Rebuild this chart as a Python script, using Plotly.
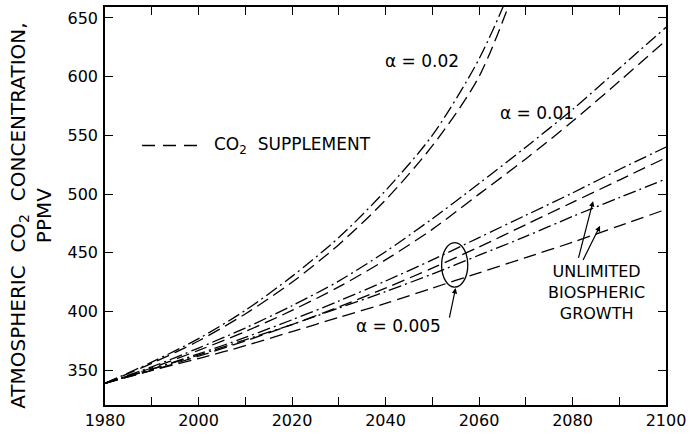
import plotly.graph_objects as go

# Projection years and CO2 concentrations (ppmv)
years = [1980, 1990, 2000, 2010, 2020, 2030, 2040, 2050, 2060, 2070, 2080, 2090, 2100]

a02_plain = [339, 357, 377, 401, 430, 463, 503, 550, 615, 705]
a02_supp = [339, 356, 375, 398, 425, 457, 495, 541, 600, 700]
a01_plain = [339, 353, 369, 386, 405, 426, 451, 479, 509, 540, 572, 607, 642]
a01_supp = [339, 352, 367, 383, 401, 421, 444, 470, 500, 530, 562, 596, 631]
a005_plain = [339, 351, 364, 378, 393, 409, 426, 444, 463, 482, 501, 521, 540]
a005_supp = [339, 350, 362, 375, 389, 404, 420, 437, 455, 474, 493, 512, 531]
unlim_plain = [339, 351, 363, 376, 389, 403, 417, 432, 448, 464, 481, 497, 513]
unlim_supp = [339, 350, 360, 371, 383, 395, 407, 420, 433, 446, 459, 473, 487]

x_ticks = [1980, 2000, 2020, 2040, 2060, 2080, 2100]
y_ticks = [350, 400, 450, 500, 550, 600, 650]

DASH = "13px,6px"
DASHDOT = "13px,4px,2px,4px"

series = [
    (a02_plain, DASHDOT), (a02_supp, DASH),
    (a01_plain, DASHDOT), (a01_supp, DASH),
    (a005_plain, DASHDOT), (a005_supp, DASH),
    (unlim_plain, DASHDOT), (unlim_supp, DASH),
]

fig = go.Figure()
for vals, dash in series:
    fig.add_trace(go.Scatter(
        x=years[:len(vals)], y=vals, mode="lines",
        line=dict(color="black", width=1.3, dash=dash, shape="spline", smoothing=0.8),
        showlegend=False, hoverinfo="skip",
    ))

FONT = "DejaVu Sans"
fig.update_layout(
    width=691, height=435,
    margin=dict(l=105, r=23, t=5, b=28),
    paper_bgcolor="white", plot_bgcolor="white",
    font=dict(family=FONT, size=16, color="black"),
)
fig.update_xaxes(
    range=[1980, 2100], tickvals=x_ticks, ticks="inside", ticklen=8, tickwidth=1.2,
    minor=dict(ticks="inside", dtick=10, ticklen=8, tickwidth=1.2, tickcolor="black"),
    tickcolor="black", showline=True, linecolor="black", linewidth=1.5, mirror="ticks",
    showgrid=False, zeroline=False, tickfont=dict(size=16),
)
fig.update_yaxes(
    range=[320.5, 659.3], tickvals=y_ticks, ticks="inside", ticklen=8, tickwidth=1.2,
    tickcolor="black", showline=True, linecolor="black", linewidth=1.5, mirror="ticks",
    showgrid=False, zeroline=False, tickfont=dict(size=16), ticklabelstandoff=2,
)

# Axis title (two lines, rotated)
fig.add_annotation(
    text="ATMOSPHERIC  CO<sub>2</sub>  CONCENTRATION,<br>PPMV",
    xref="paper", yref="paper", x=-0.131, y=0.474, xanchor="center", yanchor="middle",
    textangle=-90, showarrow=False, font=dict(size=20),
)

# Legend key for the CO2 supplement curves
fig.add_shape(type="line", xref="paper", yref="paper", x0=0.066, x1=0.174, y0=0.652, y1=0.652,
              line=dict(color="black", width=1.3, dash="13px,8px"))
fig.add_annotation(text="CO<sub>2</sub>  SUPPLEMENT", xref="paper", yref="paper",
                   x=0.19, y=0.652, xanchor="left", yanchor="middle", showarrow=False,
                   font=dict(size=17))

# Curve labels
fig.add_annotation(text="α = 0.02", x=2047.8, y=613, showarrow=False, font=dict(size=17))
fig.add_annotation(text="α = 0.01", x=2072.3, y=569, showarrow=False, font=dict(size=17))
fig.add_annotation(text="α = 0.005", x=2042.7, y=388, showarrow=False, font=dict(size=17))
fig.add_annotation(x=2055.0, y=420, ax=2053.6, ay=393.5, axref="x", ayref="y", text="",
                   showarrow=True, arrowhead=2, arrowsize=0.9, arrowwidth=1.2, arrowcolor="black")
fig.add_shape(type="circle", x0=2052.0, x1=2057.6, y0=420.8, y1=458.7,
              line=dict(color="black", width=1.3))

# Unlimited biospheric growth label and pointers
fig.add_annotation(text="UNLIMITED<br>BIOSPHERIC<br>GROWTH", x=2085.1, y=416.3,
                   showarrow=False, font=dict(size=16), align="center")
fig.add_annotation(x=2084.4, y=494, ax=2081.2, ay=444.4, axref="x", ayref="y", text="",
                   showarrow=True, arrowhead=2, arrowsize=0.9, arrowwidth=1.2, arrowcolor="black")
fig.add_annotation(x=2085.9, y=473, ax=2082.1, ay=442.7, axref="x", ayref="y", text="",
                   showarrow=True, arrowhead=2, arrowsize=0.9, arrowwidth=1.2, arrowcolor="black")

fig.write_html("out.html")
